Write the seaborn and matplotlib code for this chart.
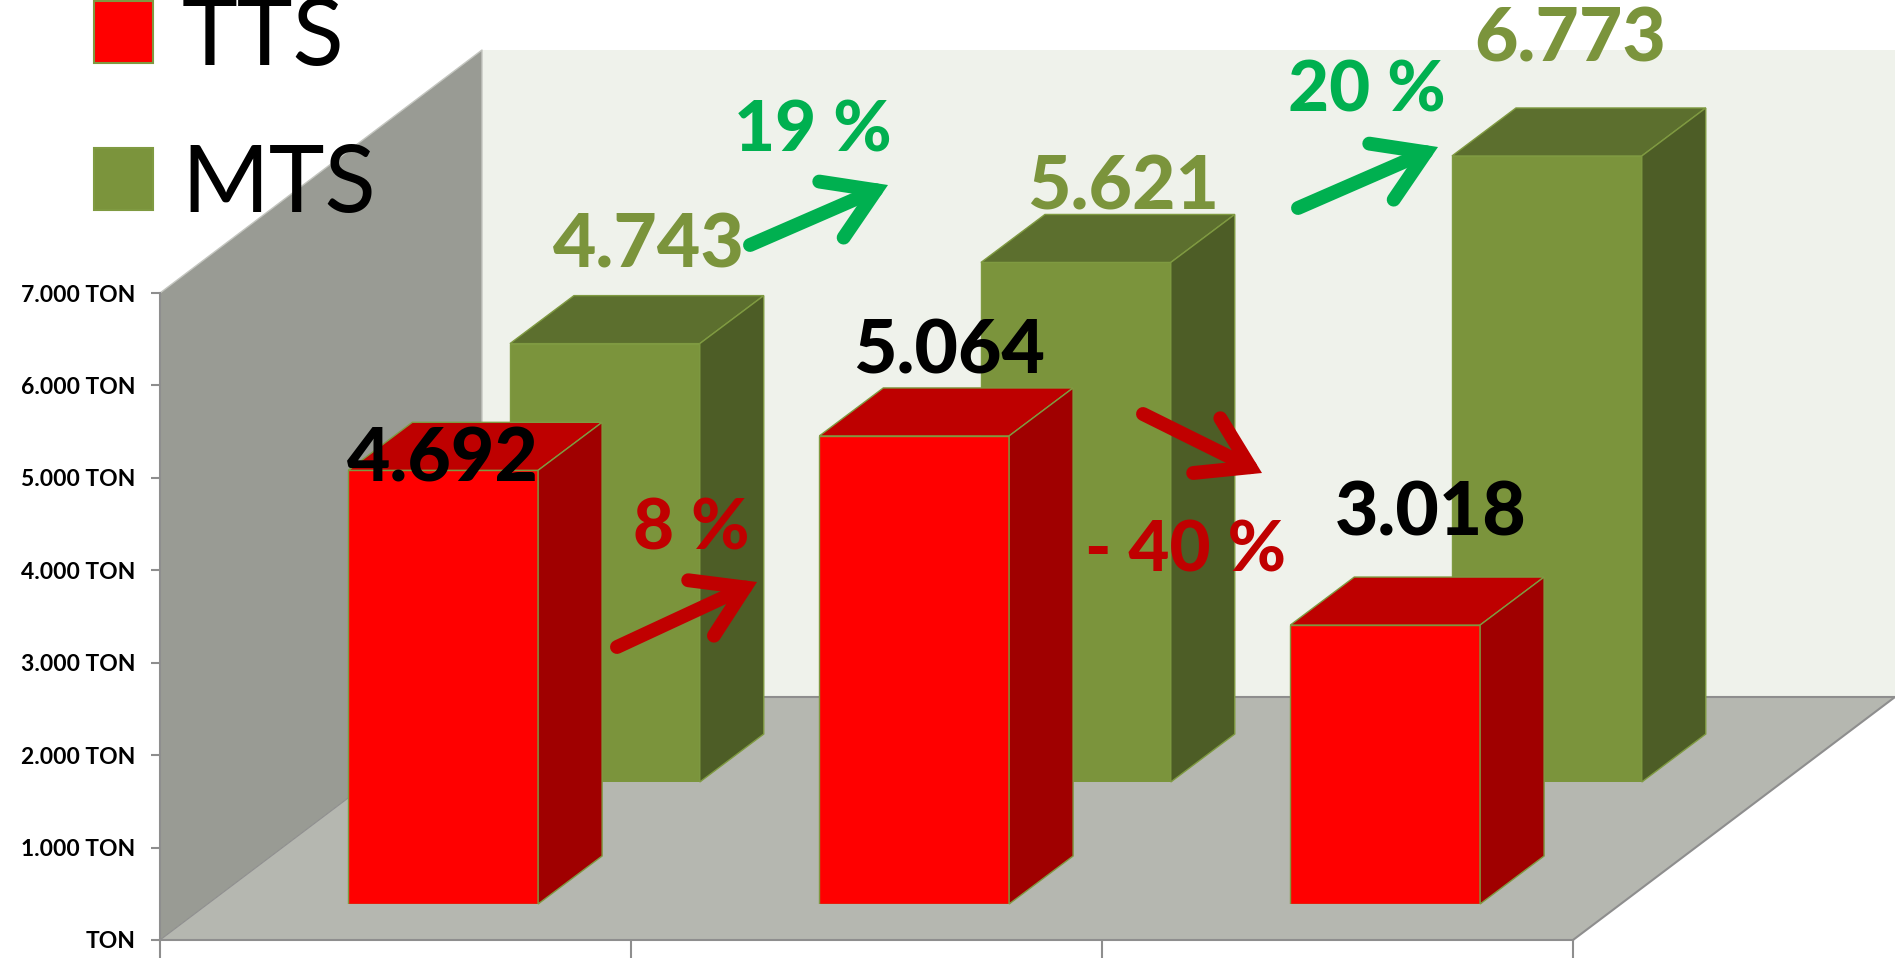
import matplotlib
matplotlib.use("Agg")
import matplotlib.pyplot as plt
from matplotlib.patches import Patch, Polygon
import seaborn as sns

# values
periods = ["1", "2", "3"]
tts = [4692, 5064, 3018]
mts = [4743, 5621, 6773]
y_ticks = [0, 1000, 2000, 3000, 4000, 5000, 6000, 7000]
changes_tts = ["8 %", "- 40 %"]
changes_mts = ["19 %", "20 %"]

# colours
RED = "#FF0000"
RED_TOP = "#BE0000"
RED_SIDE = "#A00000"
OLIVE = "#7B943C"
OLIVE_TOP = "#5C6F2E"
OLIVE_SIDE = "#4D5D26"
EDGE = "#7F9A41"
GRID = "#8E8E8E"
WALL = "#999B94"
FLOOR = "#B5B7B0"
BACK = "#EFF2EB"
PCT_RED = "#C00000"
PCT_GREEN = "#00B050"

sns.set_theme(style="white")
plt.rcParams["font.family"] = ["Lato", "DejaVu Sans"]

W, H = 1895, 966
# plot box in pixels
X0, X1, Y0, Y7 = 160, 1573, 940, 293
PX_PER_TON = (Y0 - Y7) / 7000
CAT_W = (X1 - X0) / 3
# how far the box goes back
SLOPE = 322 / 243
BOX_DEPTH = 243


def fmt(v):
    return f"{v:,.0f}".replace(",", ".")


def box_axes(fig, d, zorder):
    # same scale as the main axes, moved d pixels back
    left = (X0 + d * SLOPE) / W
    bottom = (H - Y0 + d) / H
    a = fig.add_axes([left, bottom, (X1 - X0) / W, (Y0 - Y7) / H], zorder=zorder)
    a.patch.set_visible(False)
    return a


def draw_bars(a, values, front, top, side):
    sns.barplot(x=periods, y=values, color=front, saturation=1, width=0.403,
                edgecolor=EDGE, linewidth=1, ax=a)
    a.set_xlim(-0.5, 2.5)
    a.set_ylim(0, 7000)
    a.axis("off")
    dx = 64 / CAT_W
    dy = 48 / PX_PER_TON
    for bar in a.patches:
        x0, x1 = bar.get_x(), bar.get_x() + bar.get_width()
        h = bar.get_height()
        a.add_patch(Polygon([(x0, h), (x1, h), (x1 + dx, h + dy), (x0 + dx, h + dy)],
                            fc=top, ec=EDGE, lw=1, clip_on=False))
        a.add_patch(Polygon([(x1, 0), (x1, h), (x1 + dx, h + dy), (x1 + dx, dy)],
                            fc=side, ec=EDGE, lw=1, clip_on=False))


fig = plt.figure(figsize=(W / 100, H / 100), dpi=100)

ax = box_axes(fig, 0, 0)
ax.set_xlim(-0.5, 2.5)
ax.set_ylim(0, 7000)

# walls and floor
bx = BOX_DEPTH * SLOPE / CAT_W
by = BOX_DEPTH / PX_PER_TON
ax.add_patch(Polygon([(-0.5, 0), (-0.5, 7000), (-0.5 + bx, 7000 + by), (-0.5 + bx, by)],
                     fc=WALL, ec="none", clip_on=False, zorder=1))
ax.add_patch(Polygon([(-0.5 + bx, by), (-0.5 + bx, 7000 + by), (2.5 + bx, 7000 + by), (2.5 + bx, by)],
                     fc=BACK, ec="none", clip_on=False, zorder=1))
ax.add_patch(Polygon([(-0.5, 0), (2.5, 0), (2.5 + bx, by), (-0.5 + bx, by)],
                     fc=FLOOR, ec="none", clip_on=False, zorder=1.5))
ax.plot([2.5, 2.5 + bx, -0.5 + bx], [0, by, by], color=GRID, lw=1.5, clip_on=False, zorder=2)
ax.plot([-0.5, -0.5 + bx], [0, by], color=GRID, lw=0.8, clip_on=False, zorder=2)
ax.plot([-0.5, -0.5 + bx, -0.5 + bx], [7000, 7000 + by, by], color="#C4C6C0", lw=1, clip_on=False, zorder=2)

sns.despine(ax=ax, top=True, right=True)
for s in ["left", "bottom"]:
    ax.spines[s].set_color(GRID)
    ax.spines[s].set_linewidth(1.5)
ax.set_xticks([-0.5, 0.5, 1.5, 2.5], labels=[])
ax.set_yticks(y_ticks, labels=[(fmt(v) + " TON") if v else "TON" for v in y_ticks])
ax.tick_params(axis="x", bottom=True, length=13, width=1.5, color=GRID)
ax.tick_params(axis="y", left=True, length=6.5, width=1.5, color=GRID, pad=11, labelsize=16.5)
for t in ax.get_yticklabels():
    t.set_fontweight("bold")
    t.set_color("black")

ax_back = box_axes(fig, 158, 1)
draw_bars(ax_back, mts, OLIVE, OLIVE_TOP, OLIVE_SIDE)
ax_front = box_axes(fig, 36, 2)
draw_bars(ax_front, tts, RED, RED_TOP, RED_SIDE)

# labels and arrows go on a pixel layer over the bars
page = fig.add_axes([0, 0, 1, 1], zorder=3)
page.set_xlim(0, W)
page.set_ylim(H, 0)
page.axis("off")

mts_label_pos = [(649, 268), (1123, 209), (1570, 62)]
tts_label_pos = [(443, 482), (949, 373), (1431, 535)]
for v, (x, y) in zip(mts, mts_label_pos):
    page.text(x, y, fmt(v), color=OLIVE, fontsize=54, fontweight=900, ha="center", va="baseline")
for v, (x, y) in zip(tts, tts_label_pos):
    page.text(x, y, fmt(v), color="black", fontsize=54, fontweight=900, ha="center", va="baseline")

for txt, (x, y) in zip(changes_mts, [(813, 151), (1367, 112)]):
    page.text(x, y, txt, color=PCT_GREEN, fontsize=51, fontweight=900, ha="center", va="baseline")
for txt, (x, y) in zip(changes_tts, [(691, 550), (1186, 572)]):
    page.text(x, y, txt, color=PCT_RED, fontsize=51, fontweight=900, ha="center", va="baseline")

arrows = [
    ((617, 647), (757, 582), PCT_RED),
    ((1143, 414), (1262, 473), PCT_RED),
    ((750, 245), (888, 185), PCT_GREEN),
    ((1298, 208), (1438, 147), PCT_GREEN),
]
for tail, tip, col in arrows:
    page.annotate("", xy=tip, xytext=tail,
                  arrowprops=dict(arrowstyle="->,head_length=3.5,head_width=2.2", color=col,
                                  lw=10, mutation_scale=10, shrinkA=0, shrinkB=0, joinstyle="miter"))

handles = [Patch(fc=RED, ec=EDGE, lw=1.5, label="TTS"),
           Patch(fc=OLIVE, ec=EDGE, lw=1.5, label="MTS")]
page.legend(handles=handles, loc="upper left", bbox_to_anchor=(94 / W, 1 + 3 / H), frameon=False,
            fontsize=68, labelcolor="black", borderpad=0, borderaxespad=0, labelspacing=0.67,
            handlelength=0.625, handleheight=0.63, handletextpad=0.3)

fig.savefig("out.png", dpi=100)
